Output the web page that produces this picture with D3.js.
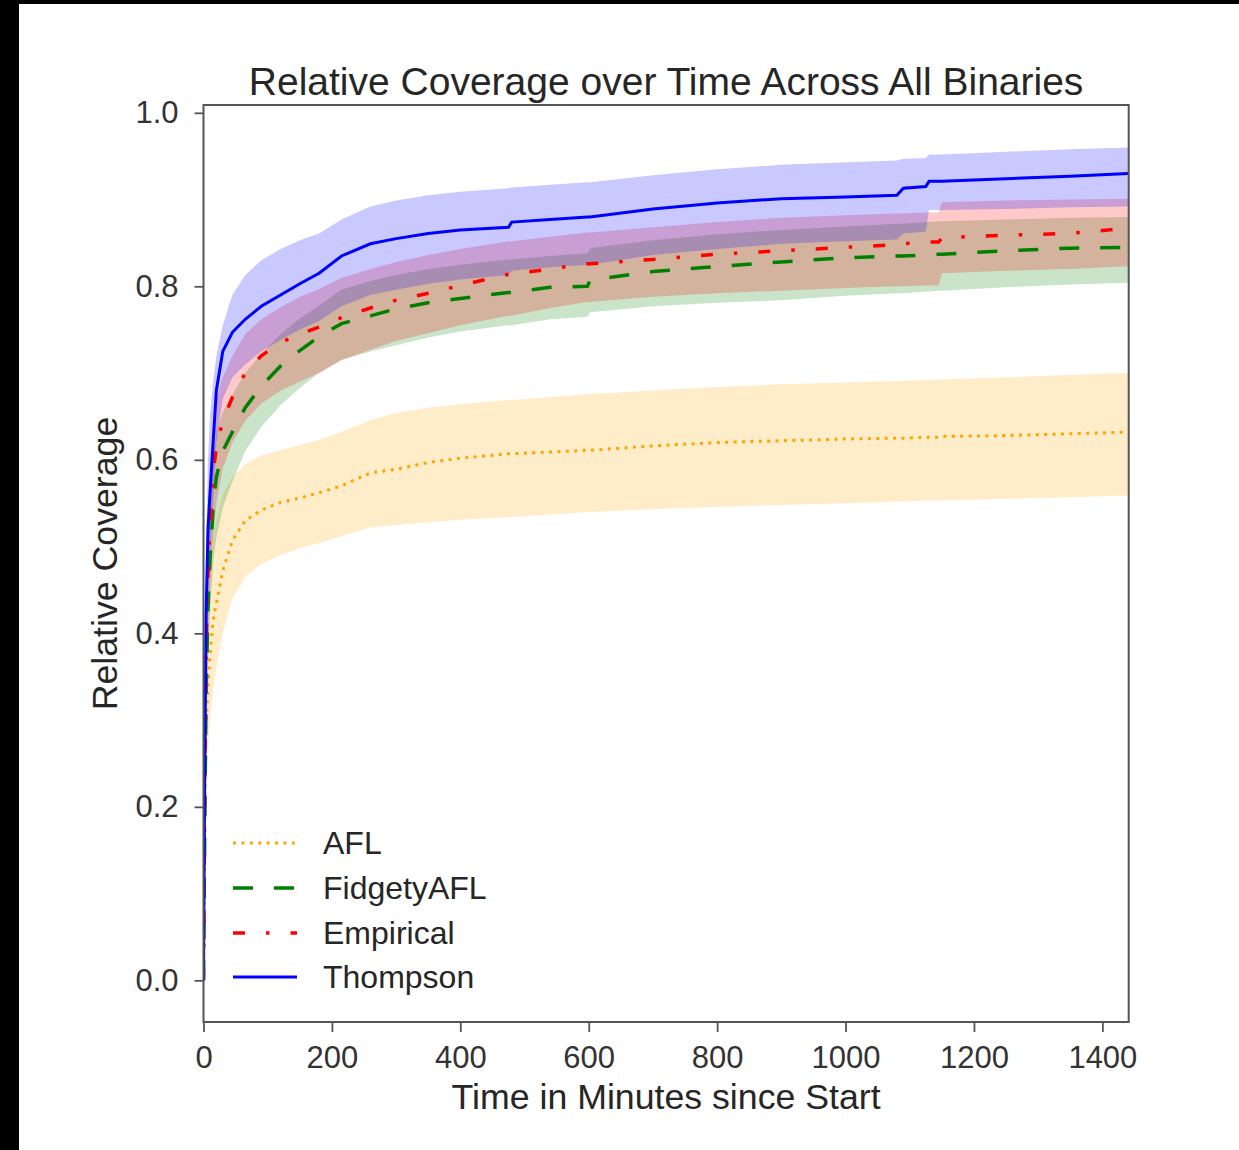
<!DOCTYPE html>
<html><head><meta charset="utf-8">
<script src="https://cdn.jsdelivr.net/npm/d3@7"></script>
<style>
html,body{margin:0;padding:0;background:#fff;}
svg{display:block;font-family:"Liberation Sans",Arial,sans-serif;}
</style></head>
<body><svg id="chart" width="1239" height="1150"></svg>
<script>
const minutes = [0,2,4,7,10,15,20,30,45,65,90,120,150,180,215,260,300,350,400,475,480,540,598,602,700,800,900,1000,1080,1090,1125,1130,1145,1150,1250,1350,1440];

const aflMean = [0,0.20,0.29,0.34,0.375,0.415,0.435,0.472,0.507,0.53,0.542,0.551,0.556,0.562,0.57,0.585,0.589,0.597,0.602,0.607,0.607,0.609,0.611,0.611,0.616,0.62,0.622,0.624,0.625,0.625,0.626,0.626,0.626,0.627,0.628,0.63,0.632];
const aflLow  = [0,0.15,0.22,0.27,0.30,0.335,0.36,0.40,0.44,0.465,0.48,0.49,0.498,0.504,0.512,0.522,0.525,0.528,0.531,0.534,0.534,0.537,0.54,0.54,0.543,0.546,0.548,0.55,0.552,0.552,0.553,0.553,0.553,0.553,0.555,0.557,0.559];
const aflHigh = [0,0.26,0.36,0.43,0.47,0.51,0.53,0.56,0.58,0.595,0.605,0.611,0.617,0.623,0.632,0.646,0.654,0.66,0.664,0.669,0.669,0.672,0.676,0.676,0.68,0.684,0.687,0.689,0.691,0.691,0.692,0.692,0.692,0.693,0.695,0.698,0.70];

const fidgetyMean = [0,0.18,0.33,0.43,0.484,0.545,0.58,0.61,0.632,0.66,0.685,0.708,0.726,0.742,0.757,0.766,0.774,0.781,0.786,0.793,0.793,0.799,0.80,0.807,0.817,0.823,0.828,0.833,0.835,0.835,0.836,0.836,0.837,0.837,0.841,0.844,0.845];
const fidgetyLow  = [0,0.12,0.26,0.36,0.42,0.48,0.51,0.545,0.575,0.61,0.638,0.663,0.683,0.70,0.715,0.725,0.732,0.741,0.748,0.755,0.755,0.762,0.765,0.77,0.777,0.781,0.784,0.789,0.792,0.792,0.794,0.794,0.795,0.795,0.799,0.802,0.804];
const fidgetyHigh = [0,0.24,0.40,0.50,0.55,0.60,0.63,0.655,0.675,0.70,0.722,0.745,0.763,0.778,0.796,0.806,0.813,0.82,0.825,0.831,0.831,0.835,0.838,0.844,0.853,0.86,0.865,0.869,0.872,0.872,0.874,0.874,0.875,0.875,0.877,0.879,0.88];

const empiricalMean = [0,0.22,0.38,0.47,0.52,0.585,0.615,0.645,0.672,0.70,0.72,0.735,0.745,0.753,0.764,0.775,0.784,0.792,0.801,0.814,0.814,0.82,0.826,0.826,0.831,0.837,0.841,0.845,0.848,0.849,0.851,0.851,0.851,0.856,0.859,0.861,0.867];
const empiricalLow  = [0,0.15,0.30,0.40,0.45,0.51,0.55,0.59,0.62,0.645,0.665,0.68,0.69,0.70,0.715,0.727,0.737,0.746,0.755,0.766,0.766,0.775,0.782,0.782,0.788,0.792,0.795,0.798,0.80,0.80,0.801,0.801,0.801,0.815,0.818,0.82,0.823];
const empiricalHigh = [0,0.28,0.45,0.54,0.59,0.645,0.67,0.695,0.72,0.745,0.762,0.776,0.788,0.797,0.81,0.82,0.828,0.836,0.843,0.852,0.852,0.857,0.862,0.862,0.868,0.874,0.879,0.882,0.884,0.884,0.885,0.885,0.885,0.897,0.899,0.90,0.901];

const thompsonMean = [0,0.25,0.42,0.52,0.56,0.62,0.68,0.725,0.747,0.762,0.777,0.79,0.803,0.815,0.835,0.849,0.855,0.861,0.865,0.868,0.874,0.877,0.88,0.88,0.889,0.896,0.901,0.903,0.905,0.913,0.915,0.921,0.921,0.921,0.924,0.927,0.93];
const thompsonLow  = [0,0.18,0.33,0.44,0.48,0.55,0.62,0.67,0.695,0.71,0.725,0.738,0.75,0.76,0.777,0.79,0.796,0.803,0.808,0.813,0.818,0.822,0.825,0.825,0.836,0.843,0.849,0.852,0.854,0.861,0.863,0.888,0.888,0.888,0.889,0.891,0.892];
const thompsonHigh = [0,0.32,0.50,0.60,0.65,0.69,0.72,0.755,0.79,0.813,0.83,0.843,0.853,0.861,0.877,0.892,0.899,0.905,0.909,0.913,0.914,0.917,0.92,0.92,0.928,0.935,0.94,0.943,0.945,0.947,0.948,0.952,0.952,0.952,0.955,0.958,0.96];

const seriesNames = ["AFL","FidgetyAFL","Empirical","Thompson"];
const xTicks = [0,200,400,600,800,1000,1200,1400];
const yTicks = [0.0,0.2,0.4,0.6,0.8,1.0];

const series = [
  {name:"AFL", mean:aflMean, lo:aflLow, hi:aflHigh, color:"#ffa500", dash:"3,5.4", width:3},
  {name:"FidgetyAFL", mean:fidgetyMean, lo:fidgetyLow, hi:fidgetyHigh, color:"#008000", dash:"20,21", width:3.5},
  {name:"Empirical", mean:empiricalMean, lo:empiricalLow, hi:empiricalHigh, color:"#ff0000", dash:"12,21,3.5,21", width:3.5},
  {name:"Thompson", mean:thompsonMean, lo:thompsonLow, hi:thompsonHigh, color:"#0000ff", dash:null, width:3}
];

const svg = d3.select("#chart");
// black scan border
svg.append("rect").attr("x",0).attr("y",0).attr("width",1239).attr("height",4).attr("fill","#000");
svg.append("rect").attr("x",0).attr("y",0).attr("width",19).attr("height",1150).attr("fill","#000");

const L=203.5, R=1128.7, T=105, B=1022;
const x = d3.scaleLinear().domain([0,1441]).range([L,R]);
const y = d3.scaleLinear().domain([-0.048,1.009]).range([B,T]);

svg.append("defs").append("clipPath").attr("id","clip")
  .append("rect").attr("x",L).attr("y",T).attr("width",R-L).attr("height",B-T);

const plot = svg.append("g").attr("clip-path","url(#clip)");

series.forEach(s=>{
  const area = d3.area().x((d,i)=>x(minutes[i])).y0((d,i)=>y(s.lo[i])).y1((d,i)=>y(s.hi[i]));
  plot.append("path").datum(s.mean).attr("d",area).attr("fill",s.color).attr("fill-opacity",0.21).attr("stroke","none");
});
series.forEach(s=>{
  const line = d3.line().x((d,i)=>x(minutes[i])).y(d=>y(d));
  const p = plot.append("path").datum(s.mean).attr("d",line).attr("fill","none")
    .attr("stroke",s.color).attr("stroke-width",s.width);
  if(s.dash) p.attr("stroke-dasharray",s.dash);
});

const axisColor = "#555";
const textColor = "#333";
// x axis
const xa = svg.append("g").attr("transform",`translate(0,${B})`)
  .call(d3.axisBottom(x).tickValues(xTicks).tickFormat(d3.format("d")).tickSize(10).tickPadding(14));
xa.select(".domain").remove();
xa.selectAll(".tick line").attr("stroke",axisColor).attr("stroke-width",1.8);
xa.selectAll(".tick text").attr("fill",textColor).style("font-size","31px").style("font-family","'Liberation Sans',Arial,sans-serif");
// y axis
const ya = svg.append("g").attr("transform",`translate(${L},0)`)
  .call(d3.axisLeft(y).tickValues(yTicks).tickFormat(d3.format(".1f")).tickSize(9).tickPadding(16));
ya.select(".domain").remove();
ya.selectAll(".tick line").attr("stroke",axisColor).attr("stroke-width",1.8);
ya.selectAll(".tick text").attr("fill",textColor).style("font-size","31px").style("font-family","'Liberation Sans',Arial,sans-serif");

// frame
svg.append("rect").attr("x",L).attr("y",T).attr("width",R-L).attr("height",B-T)
  .attr("fill","none").attr("stroke",axisColor).attr("stroke-width",2);

// title & labels
svg.append("text").attr("x",(L+R)/2).attr("y",95).attr("text-anchor","middle")
  .attr("fill","#262626").style("font-size","39px").text("Relative Coverage over Time Across All Binaries");
svg.append("text").attr("x",(L+R)/2).attr("y",1109).attr("text-anchor","middle")
  .attr("fill","#262626").style("font-size","35.7px").text("Time in Minutes since Start");
svg.append("text").attr("transform",`translate(117,${(T+B)/2}) rotate(-90)`).attr("text-anchor","middle")
  .attr("fill","#262626").style("font-size","35.7px").text("Relative Coverage");

// legend
const legY = [843,888,933,977];
series.forEach((s,i)=>{
  const g = svg.append("g");
  const ln = g.append("line").attr("x1",233).attr("x2",297).attr("y1",legY[i]).attr("y2",legY[i])
    .attr("stroke",s.color).attr("stroke-width",s.width);
  if(s.dash) ln.attr("stroke-dasharray",s.dash);
  g.append("text").attr("x",323).attr("y",legY[i]+11).attr("fill","#262626")
    .style("font-size","32px").text(seriesNames[i]);
});
</script></body></html>
